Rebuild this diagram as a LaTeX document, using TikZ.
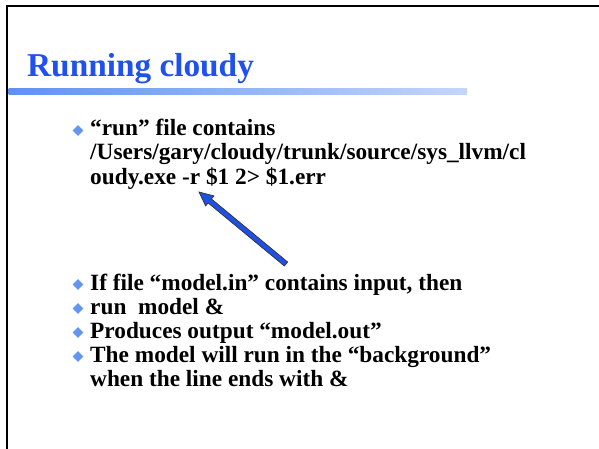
\documentclass[tikz,border=0pt]{standalone}
\usepackage{fontspec}
\setmainfont{Liberation Serif}
\usetikzlibrary{calc,shapes.geometric}
\definecolor{titleblue}{RGB}{32,80,240}
\definecolor{barleft}{RGB}{95,145,245}
\definecolor{barright}{RGB}{196,214,250}
\definecolor{bulletblue}{RGB}{100,150,240}
\definecolor{arrowblue}{RGB}{30,80,230}
\tikzset{
  bodytext/.style={anchor=base west, inner sep=0pt,
    font=\fontsize{23.3}{25}\selectfont\bfseries},
  bulletmark/.style={diamond, fill=bulletblue, inner sep=0pt,
    minimum width=11pt, minimum height=11pt},
  arrowshape/.style={fill=arrowblue, draw=black!80, line width=0.7pt, line join=miter},
  border/.style={draw=black, line width=2.6pt}
}
\begin{document}
\begin{tikzpicture}[x=1pt,y=-1pt]
\useasboundingbox (0,0) rectangle (599,449);
\fill[white] (0,0) rectangle (599,449);
% borders
\draw[border] (7,449) -- (7,6) -- (599,6);
% title
\node[anchor=base west, inner sep=0pt, text=titleblue,
  font=\fontsize{33.3}{36}\selectfont\bfseries] (title) at (27,77) {Running cloudy};
% gradient bar
\shade[left color=barleft, right color=barright] (8.5,89) rectangle (467,95);
% bullets
\node[bulletmark] (b1) at (78,130.5) {};
\node[bodytext] (t1a) at (90,136) {“run” file contains};
\node[bodytext] (t1b) at (90,160) {/Users/gary/cloudy/trunk/source/sys\_llvm/cl};
\node[bodytext] (t1c) at (90,184) {oudy.exe -r \$1 2> \$1.err};
\node[bulletmark] (b2) at (78,284.5) {};
\node[bodytext] (t2) at (90,290) {If file “model.in” contains input, then};
\node[bulletmark] (b3) at (78,308.5) {};
\node[bodytext] (t3) at (90,314) {run\ \ model \&};
\node[bulletmark] (b4) at (78,332.5) {};
\node[bodytext] (t4) at (90,338) {Produces output “model.out”};
\node[bulletmark] (b5) at (78,356.5) {};
\node[bodytext] (t5a) at (90,362) {The model will run in the “background”};
\node[bodytext] (t5b) at (90,386) {when the line ends with \&};
% arrow
\coordinate (tail) at (286,264);
\coordinate (tip) at (199,192);
\coordinate (hb) at ($(tip)!14pt!(tail)$);
\filldraw[arrowshape] ($(tail)!2.6pt!90:(tip)$) -- ($(hb)!2.6pt!-90:(tail)$) -- ($(hb)!6.5pt!-90:(tail)$) -- (tip) -- ($(hb)!6.5pt!90:(tail)$) -- ($(hb)!2.6pt!90:(tail)$) -- ($(tail)!2.6pt!-90:(tip)$) -- cycle;
\end{tikzpicture}
\end{document}
